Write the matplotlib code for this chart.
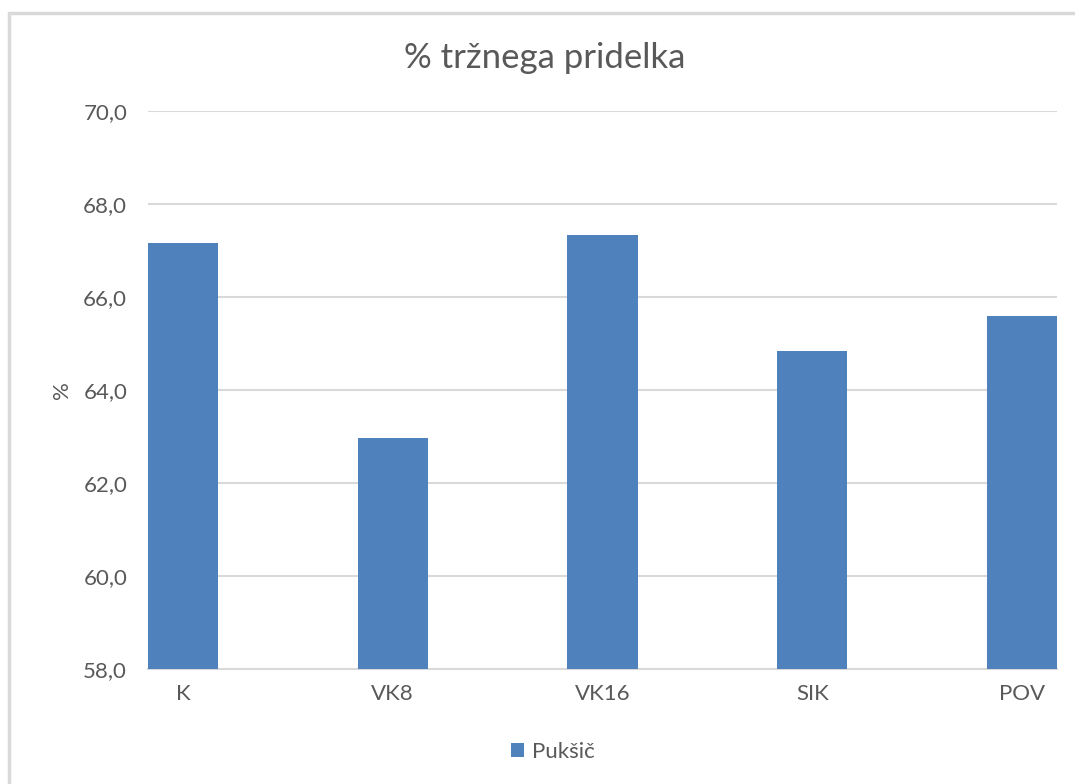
import matplotlib
matplotlib.use("Agg")
import matplotlib.pyplot as plt
from matplotlib.patches import Rectangle

# tržni pridelek po obravnavanjih
categories = ["K", "VK8", "VK16", "SIK", "POV"]
pukcic = [67.17, 62.97, 67.33, 64.84, 65.59]
series_name = "Pukšič"
yticks = [58, 60, 62, 64, 66, 68, 70]

text_col = "#595959"
bar_col = "#4f81bd"
grid_col = "#d9d9d9"

plt.rcParams["font.family"] = ["Lato", "DejaVu Sans"]

fig = plt.figure(figsize=(10.75, 7.84), dpi=100)
W, H = 1075, 784

# okvir grafa (desno in spodaj odrezan)
fig.patches.append(Rectangle((9 / W, -0.1), 1.2, 1 - 13 / H + 0.1, transform=fig.transFigure,
                             fill=False, edgecolor="#d9d9d9", linewidth=2.5))

ax = fig.add_axes([148 / W, 1 - 669 / H, (1057 - 148) / W, (669 - 111) / H])
x = range(len(categories))
bars = ax.bar(x, pukcic, width=0.334, color=bar_col, label=series_name, zorder=3)

ax.set_ylim(58, 70)
ax.set_xlim(-0.167, len(categories) - 1 + 0.167)
ax.set_yticks(yticks)
ax.set_yticklabels([f"{v:.1f}".replace(".", ",") for v in yticks])
ax.set_xticks(list(x))
ax.set_xticklabels(categories)
ax.tick_params(axis="both", length=0, labelsize=16, colors=text_col)
ax.tick_params(axis="y", pad=15)
ax.tick_params(axis="x", pad=11)
ax.grid(axis="y", color=grid_col, linewidth=1.5, zorder=0)
for s in ["top", "right", "left"]:
    ax.spines[s].set_visible(False)
ax.spines["bottom"].set_color(grid_col)
ax.spines["bottom"].set_linewidth(1.5)

ax.set_ylabel("%", fontsize=16, color=text_col, labelpad=8)
fig.text(545 / W, 1 - 58 / H, "% tržnega pridelka", ha="center", va="center",
         fontsize=25, color=text_col)

fig.legend(handles=[bars], labels=[series_name], loc="center", bbox_to_anchor=(553 / W, 1 - 752 / H),
           frameon=False, fontsize=16, labelcolor=text_col, handlelength=0.6, handleheight=0.6,
           handletextpad=0.35)

fig.savefig("out.png", dpi=100, facecolor="white")
